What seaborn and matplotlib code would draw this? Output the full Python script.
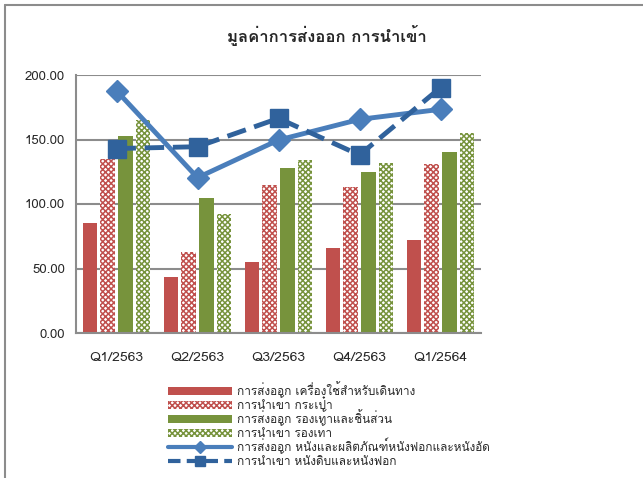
import matplotlib
matplotlib.use("Agg")
import matplotlib.pyplot as plt
from matplotlib.lines import Line2D
from matplotlib.patches import Patch
import seaborn as sns
import pandas as pd

quarters = ["Q1/2563", "Q2/2563", "Q3/2563", "Q4/2563", "Q1/2564"]
bar_names = ["การส่งออก เครื่องใช้สำหรับเดินทาง", "การนำเข้า กระเป๋า",
             "การส่งออก รองเท้าและชิ้นส่วน", "การนำเข้า รองเท้า"]
export_travel = [85.5, 43.6, 55.3, 65.6, 72.1]
import_bags = [134.9, 62.8, 114.7, 113.4, 130.8]
export_shoes = [153.0, 104.4, 127.7, 125.0, 140.0]
import_shoes = [165.0, 92.2, 134.1, 131.5, 155.3]
line_names = ["การส่งออก หนังและผลิตภัณฑ์หนังฟอกและหนังอัด", "การนำเข้า หนังดิบและหนังฟอก"]
export_leather = [187.8, 120.4, 149.6, 165.6, 173.4]
import_leather = [143.0, 144.4, 166.4, 138.0, 190.2]

sns.set_theme(style="white")
plt.rcParams["font.family"] = ["Loma", "DejaVu Sans"]
plt.rcParams["hatch.linewidth"] = 1.1

df = pd.DataFrame({
    "quarter": quarters * 4,
    "series": [n for n in bar_names for _ in quarters],
    "value": export_travel + import_bags + export_shoes + import_shoes,
})

red = "#C0504D"
green = "#77933C"
blue = "#4A7EBB"
dblue = "#30629C"
grey = "#8C8C8C"

fig = plt.figure(figsize=(6.43, 4.78), dpi=100)
ax = fig.add_axes([76 / 643, 1 - 333 / 478, 405 / 643, 258 / 478])

sns.barplot(data=df, x="quarter", y="value", hue="series", hue_order=bar_names,
            palette=[red, red, green, green], width=0.88, gap=0.2,
            ax=ax, legend=False, saturation=1)

# checker bars: white face with dense hatch
styles = [(red, None), (red, "xxxxxx"), (green, None), (green, "xxxxxx")]
for cont, (c, h) in zip(ax.containers, styles):
    for b in cont:
        b.set_linewidth(0)
        if h:
            b.set_facecolor("white")
            b.set_edgecolor(c)
            b.set_hatch(h)

xs = range(len(quarters))
ax.plot(xs, export_leather, color=blue, lw=3.5, marker="D", ms=11, zorder=5)
ax.plot(xs, import_leather, color=dblue, lw=3.5, ls=(0, (4, 1.8)), marker="s", ms=13, zorder=5)

ax.set_ylim(0, 200)
ax.set_yticks([0, 50, 100, 150, 200])
ax.set_yticklabels([f"{v:.2f}" for v in [0, 50, 100, 150, 200]], fontsize=9.5)
ax.set_xlim(-0.5, 4.5)
ax.tick_params(axis="x", labelsize=10, pad=8)
ax.tick_params(axis="y", pad=2)
ax.set_xlabel("")
ax.set_ylabel("")
ax.yaxis.grid(True, color=grey, lw=1.5)
ax.set_axisbelow(True)
for s in ["top", "right"]:
    ax.spines[s].set_visible(False)
for s in ["left", "bottom"]:
    ax.spines[s].set_color(grey)
    ax.spines[s].set_linewidth(1.5)

fig.text(327 / 643, 1 - 35 / 478, "มูลค่าการส่งออก การนำเข้า", ha="center", va="center",
         fontsize=12, fontweight="bold")

handles = [
    Patch(facecolor=red, edgecolor="none"),
    Patch(facecolor="white", edgecolor=red, hatch="xxxxxx", lw=0),
    Patch(facecolor=green, edgecolor="none"),
    Patch(facecolor="white", edgecolor=green, hatch="xxxxxx", lw=0),
    Line2D([], [], color=blue, lw=3, marker="D", ms=6),
    Line2D([], [], color=dblue, lw=3, ls=(0, (3, 1.5)), marker="s", ms=7),
]
fig.legend(handles, bar_names + line_names, loc="upper left",
           bbox_to_anchor=(162 / 643, 1 - 377 / 478), frameon=False,
           fontsize=8.5, labelspacing=0.02, handlelength=5.4, handleheight=0.7,
           handletextpad=0.45, borderpad=0)

# chart area border (top and left edges visible)
fig.add_artist(Line2D([5 / 643, 5 / 643], [0, 1 - 5 / 478], transform=fig.transFigure, color=grey, lw=1.5))
fig.add_artist(Line2D([5 / 643, 1], [1 - 5 / 478, 1 - 5 / 478], transform=fig.transFigure, color=grey, lw=1.5))

fig.savefig("out.png", dpi=100)
